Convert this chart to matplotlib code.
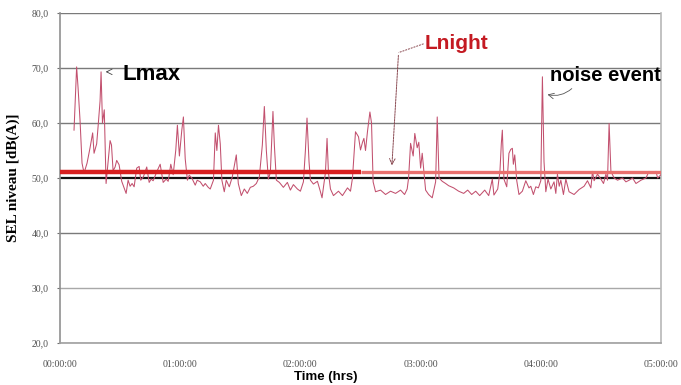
import matplotlib
matplotlib.use("Agg")
import matplotlib.pyplot as plt
from matplotlib.ticker import FixedLocator, FuncFormatter

# Night-time noise record: elapsed minutes since 00:00:00 and SEL level in dB(A)
minutes = [
    7.0, 8.3, 9.0, 10.0, 11.0, 12.0, 13.5, 15.0, 16.3, 17.0, 18.3, 19.0, 20.0, 20.5, 21.2,
    22.1, 23.0, 24.0, 25.0, 25.7, 26.5, 27.5, 28.3, 29.5, 30.8, 32.0, 33.0, 34.0, 35.0, 36.0,
    37.0, 38.3, 39.5, 40.3, 41.6, 43.3, 44.5, 45.5, 46.5, 48.5, 50.0, 51.5, 53.0, 54.0, 55.3,
    56.5, 57.8, 58.6, 59.6, 60.8, 61.6, 62.5, 63.6, 64.5, 65.8, 67.5, 68.5, 70.0, 71.5, 72.5,
    74.0, 75.0, 76.6, 77.5, 78.3, 79.1, 80.0, 80.8, 82.0, 83.0, 84.5, 86.0, 88.0, 89.0, 90.5,
    92.0, 93.5, 95.0, 96.5, 98.0, 99.5, 101.0, 102.0, 103.0, 104.0, 105.0, 106.3, 107.0, 108.0,
    109.5, 111.5, 113.5, 115.0, 116.5, 118.5, 120.0, 121.5, 122.5, 123.3, 124.3, 125.0, 126.5,
    128.5, 130.0, 130.8, 132.5, 133.3, 134.0, 135.0, 136.5, 139.0, 141.0, 143.5, 145.0, 146.0,
    147.5, 149.0, 150.0, 151.0, 151.7, 152.5, 153.5, 154.7, 155.5, 156.3, 157.5, 160.0, 162.5,
    165.0, 167.5, 170.0, 172.0, 173.3, 174.0, 175.0, 176.3, 177.1, 178.3, 179.1, 180.0, 180.8,
    182.5, 184.0, 185.8, 187.5, 188.3, 189.2, 190.8, 192.5, 194.0, 196.5, 199.0, 201.5, 203.5,
    205.5, 207.5, 209.5, 212.0, 214.0, 215.8, 216.6, 218.5, 219.6, 220.3, 220.8, 221.6, 223.0,
    224.1, 225.0, 225.8, 226.3, 227.0, 228.0, 229.1, 230.8, 232.5, 234.1, 235.0, 236.3, 237.5,
    238.8, 240.0, 240.8, 241.6, 242.5, 243.6, 245.0, 246.6, 247.5, 248.3, 249.2, 250.0, 251.3,
    252.5, 254.1, 256.6, 259.1, 261.6, 263.3, 265.0, 265.8, 266.6, 268.3, 270.0, 271.3, 272.5,
    273.3, 274.1, 275.0, 276.6, 278.3, 280.8, 282.5, 284.1, 285.8, 287.5, 290.0, 292.5, 294.0,
    295.8, 297.5, 298.3, 300.0,
]
sel_db = [
    58.7, 70.2, 66.5, 60.5, 52.7, 50.9, 52.7, 55.5, 58.2, 54.5, 56.2, 59.3, 64.0, 69.3, 60.0,
    62.4, 49.0, 53.0, 56.8, 56.0, 51.3, 52.0, 53.2, 52.4, 49.4, 48.2, 47.2, 49.6, 48.5, 49.0,
    48.4, 51.8, 52.1, 49.6, 50.2, 52.0, 49.2, 49.8, 49.5, 51.3, 52.5, 49.2, 49.8, 49.4, 52.5,
    50.6, 55.1, 59.6, 54.0, 58.7, 61.1, 53.5, 49.6, 50.5, 50.0, 48.7, 49.6, 49.3, 48.5, 49.0,
    48.3, 48.0, 49.6, 58.2, 55.0, 59.6, 56.2, 49.6, 47.5, 49.6, 48.4, 50.2, 54.2, 49.0, 46.8,
    48.0, 47.2, 48.3, 48.5, 49.0, 50.2, 56.0, 63.0, 55.0, 49.8, 51.0, 62.1, 56.0, 49.6,
    49.2, 48.3, 49.2, 47.8, 48.8, 48.0, 47.6, 49.3, 55.0, 60.9, 53.0, 49.6, 48.9,
    49.4, 47.5, 46.4, 51.0, 57.2, 51.0, 48.0, 46.8, 47.6, 46.8, 48.2, 47.6, 50.0,
    58.4, 57.5, 55.1, 56.5, 57.2, 55.0, 58.5, 62.0, 60.0, 49.3, 47.5, 47.8, 47.0,
    47.6, 47.2, 47.8, 47.0, 48.0, 50.0, 56.3, 54.0, 58.1, 55.5, 56.5, 51.8, 54.5,
    47.8, 47.0, 46.4, 49.3, 61.1, 50.0, 49.4, 49.0, 48.6, 48.2, 47.6, 47.2, 47.8,
    47.0, 47.6, 46.8, 47.8, 46.8, 49.8, 46.9, 48.0, 51.2, 56.3, 58.7, 49.8, 48.4,
    54.5, 55.2, 55.4, 52.5, 54.2, 49.5, 47.0, 47.6, 49.5, 48.2, 48.5, 47.0, 48.4,
    48.2, 49.5, 68.4, 53.0, 47.5, 49.8, 48.0, 49.3, 47.2, 50.7, 48.5, 49.6, 47.0,
    49.8, 47.5, 47.0, 47.9, 48.5, 49.5, 48.2, 51.2, 49.5, 50.7, 49.8, 49.0, 50.7,
    49.6, 59.9, 51.2, 50.0, 49.6, 50.0, 49.3, 49.6, 50.0, 49.0, 49.6, 50.0, 51.2,
    51.0, 51.2, 50.0, 50.6,
]

# Night-time equivalent level and the reference 50 dB(A) line
lnight_db = 51.1
reference_db = 50.0
split_minute = 150.0

y_ticks = [20, 30, 40, 50, 60, 70, 80]
x_ticks = [0, 60, 120, 180, 240, 300]

serif = ["Liberation Serif", "DejaVu Serif"]
sans = ["Liberation Sans", "DejaVu Sans"]

fig = plt.figure(figsize=(6.81, 3.85), dpi=100)
ax = fig.add_axes([60 / 681, 1 - 343 / 385, 601 / 681, 330 / 385])

ax.set_xlim(0, 300)
ax.set_ylim(20, 80)

# horizontal grid
for v in y_ticks:
    if v == reference_db:
        continue
    col = "#7a7a7a" if v >= 40 else "#a8a8a8"
    ax.axhline(v, color=col, lw=1.0, zorder=1)
ax.axhline(reference_db, color="#111111", lw=1.6, zorder=2)

# measured trace
ax.plot(minutes, sel_db, color="#c2506e", lw=0.75, zorder=3)

# Lnight level lines
ax.plot([0, split_minute], [lnight_db, lnight_db], color="#d71f1f", lw=3.2,
        solid_capstyle="butt", zorder=4)
ax.plot([split_minute, 300], [lnight_db, lnight_db], color="#e8706e", lw=2.4,
        solid_capstyle="butt", zorder=4)

ax.spines["top"].set_visible(False)
ax.spines["left"].set_color("#909090")
ax.spines["bottom"].set_color("#a0a0a0")
ax.spines["right"].set_color("#b8b8b8")
for s in ["left", "bottom", "right"]:
    ax.spines[s].set_linewidth(1.2)

ax.yaxis.set_major_locator(FixedLocator(y_ticks))
ax.yaxis.set_major_formatter(FuncFormatter(lambda v, p: f"{v:.1f}".replace(".", ",")))
ax.xaxis.set_major_locator(FixedLocator(x_ticks))
ax.xaxis.set_major_formatter(FuncFormatter(lambda v, p: f"{int(v // 60):02d}:00:00"))
ax.tick_params(axis="y", length=2, color="#707070", pad=6, labelsize=7, labelcolor="#505050")
ax.tick_params(axis="x", length=0, pad=12, labelsize=7, labelcolor="#505050")
for lab in ax.get_xticklabels() + ax.get_yticklabels():
    lab.set_family(serif)

ax.set_ylabel("SEL niveau [dB(A)]", family=serif, fontweight="bold", fontsize=11)
ax.yaxis.set_label_coords(-40 / 601, 0.5)
fig.text(326 / 681, 1 - 377 / 385, "Time (hrs)", family=sans, fontweight="bold",
         fontsize=9.5, ha="center", va="center")

# annotations
ax.text(31.4, 68.8, "Lmax", family=sans, fontweight="bold", fontsize=16,
        ha="left", va="center", color="black")
ax.annotate("", xy=(21.4, 69.3), xytext=(25.3, 69.3),
            arrowprops=dict(arrowstyle="->", color="#444444", lw=0.6))

ax.text(182.0, 74.4, "Lnight", family=sans, fontweight="bold", fontsize=15,
        ha="left", va="center", color="#c41a22")
ax.plot([181.5, 169.0], [74.4, 72.8], color="#8a4a52", lw=0.7, ls=(0, (2, 1)))
ax.annotate("", xy=(165.6, 51.8), xytext=(169.0, 72.8),
            arrowprops=dict(arrowstyle="->", color="#8a4a52", lw=0.7, ls=(0, (2, 1))))

ax.text(244.5, 68.6, "noise event", family=sans, fontweight="bold", fontsize=14.5,
        ha="left", va="center", color="black")
ax.annotate("", xy=(242.0, 65.3), xytext=(256.5, 66.6),
            arrowprops=dict(arrowstyle="->", color="#555555", lw=0.6,
                            connectionstyle="arc3,rad=-0.3"))

fig.savefig("out.png", dpi=100)
